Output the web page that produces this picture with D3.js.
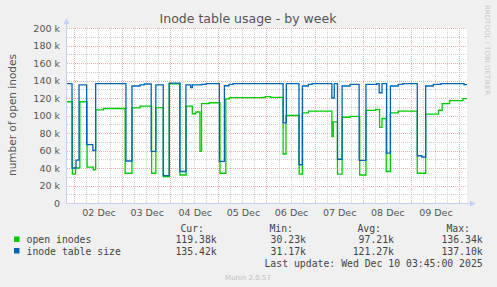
<!DOCTYPE html>
<html>
<head>
<meta charset="utf-8">
<script src="https://cdn.jsdelivr.net/npm/d3@7"></script>
<style>
  body { margin: 0; background: #f0f0f0; }
  svg { display: block; font-family: "DejaVu Sans", sans-serif; }
  .mono { font-family: "DejaVu Sans Mono", monospace; }
</style>
</head>
<body>
<script>
// hours counted from 01 Dec 2025 00:00 UTC, values in thousands
const sizeHours = [20.5, 23.0, 25.0, 26.5, 30.3, 33.4, 34.8, 49.9, 52.9, 56.9, 59, 62.5, 64.8, 68.5, 71.5, 76.8, 79.8, 82.2, 83.0, 87.7, 90, 96.5, 99.0, 101.3, 103.3, 128.3, 129.9, 136.2, 137.9, 140.9, 142.7, 152.6, 153.8, 155.4, 157.7, 161.7, 166.2, 169.6, 175.0, 176.2, 177.6, 179.9, 181.8, 185.7, 188, 195.2, 197.5, 199.4, 203.2, 207, 218.5, 220]
const sizeValues = [136.4, 40, 49, 135, 66.7, 60, 136.4, 48, 133.7, 135, 136, 59, 135, 31.2, 137.1, 36, 135, 132, 135, 135.5, 136.4, 47.5, 134, 135.5, 136.4, 91.6, 136.4, 43.7, 133.7, 135.5, 136.4, 120, 136.4, 50, 133.7, 135.5, 48.7, 135.5, 136.4, 126, 136.4, 57, 133.7, 135.5, 136.4, 54, 52.6, 133.7, 135.5, 136.4, 135.4, 135.4]

const openHours = [20.5, 23.2, 24.8, 26.9, 30.5, 33.6, 34.8, 38.6, 49.5, 52.9, 56.9, 62.7, 64.8, 68.5, 71.5, 76.8, 79.9, 83.0, 84.8, 86.8, 87.6, 91.5, 96.8, 99.7, 101.5, 119.3, 122, 128.3, 129.7, 136.3, 137.9, 140.9, 152.6, 153.3, 155.4, 157.7, 161.7, 166.5, 169.6, 174.5, 176.4, 177.6, 179.7, 181.8, 185.7, 195.2, 199.4, 205.8, 207.6, 211.3, 218, 220]
const openValues = [115.7, 33, 40, 115.7, 41, 38, 106.5, 108, 34, 108.8, 110.7, 34, 109, 30.2, 136.3, 32, 110.8, 102, 104, 59, 113.5, 114.6, 34, 119, 120.5, 121.5, 120.8, 56, 100, 33, 103, 105, 76, 92.7, 33, 98, 99, 32, 105.8, 107, 86.5, 96.6, 36, 103, 105, 34, 101.5, 106, 113.5, 117, 119.4, 119.4]

const seriesNames = ['open inodes', 'inode table size']
const seriesColors = ['#00cc00', '#0066b3']
const statHeads = ['Cur:', 'Min:', 'Avg:', 'Max:']
const statOpen = ['119.38k', '30.23k', '97.21k', '136.34k']
const statSize = ['135.42k', '31.17k', '121.27k', '137.10k']

const w = 497, h = 287
const pLeft = 67, pRight = 467, pTop = 28, pBottom = 203

const base = Date.UTC(2025, 11, 1)
const toDate = hr => new Date(base + hr * 3600000)

let x = d3.scaleUtc()
    .domain([toDate(20.5), toDate(220)])
    .range([pLeft, pRight])

let y = d3.scaleLinear()
    .domain([0, 200000])
    .range([pBottom, pTop])

let svg = d3.select('body')
    .append('svg')
    .attr('width', w)
    .attr('height', h)

// canvas
svg.append('rect')
    .attr('x', pLeft).attr('y', pTop)
    .attr('width', pRight - pLeft).attr('height', pBottom - pTop)
    .attr('fill', '#fff')

//minor grid
let grid = svg.append('g').attr('shape-rendering', 'crispEdges')
grid.selectAll('.hmin')
    .data(d3.range(10000, 200001, 20000))
    .enter().append('line')
    .attr('x1', pLeft).attr('x2', pRight)
    .attr('y1', d => Math.round(y(d)) + 0.5).attr('y2', d => Math.round(y(d)) + 0.5)
    .attr('stroke', '#cfcfcf').attr('stroke-dasharray', '1,1')
grid.selectAll('.vmin')
    .data(x.ticks(d3.utcHour.every(6)).filter(d => d.getUTCHours() != 0))
    .enter().append('line')
    .attr('x1', d => Math.round(x(d)) + 0.5).attr('x2', d => Math.round(x(d)) + 0.5)
    .attr('y1', pTop).attr('y2', pBottom)
    .attr('stroke', '#cfcfcf').attr('stroke-dasharray', '1,1')

//major grid
grid.selectAll('.hmaj')
    .data(d3.range(20000, 200001, 20000))
    .enter().append('line')
    .attr('x1', pLeft).attr('x2', pRight)
    .attr('y1', d => Math.round(y(d)) + 0.5).attr('y2', d => Math.round(y(d)) + 0.5)
    .attr('stroke', '#f0b0b0').attr('stroke-dasharray', '1,1')
grid.selectAll('.vmaj')
    .data(x.ticks(d3.utcDay.every(1)))
    .enter().append('line')
    .attr('x1', d => Math.round(x(d)) + 0.5).attr('x2', d => Math.round(x(d)) + 0.5)
    .attr('y1', pTop).attr('y2', pBottom)
    .attr('stroke', '#f0b0b0').attr('stroke-dasharray', '1,1')

// series
svg.append('clipPath').attr('id', 'plot')
    .append('rect')
    .attr('x', pLeft).attr('y', pTop - 2)
    .attr('width', pRight - pLeft).attr('height', pBottom - pTop + 2)

let line = d3.line()
    .x(d => x(toDate(d[0])))
    .y(d => y(d[1] * 1000))
    .curve(d3.curveStepAfter)

let series = [
    d3.zip(openHours, openValues),
    d3.zip(sizeHours, sizeValues)
]

svg.append('g').attr('clip-path', 'url(#plot)')
    .selectAll('path')
    .data(series)
    .enter()
    .append('path')
    .attr('d', line)
    .attr('fill', 'none')
    .attr('stroke', (d, i) => seriesColors[i])
    .attr('stroke-width', 1.3)

// axes
let axisColor = '#c8d0f6'
svg.append('line')
    .attr('x1', pLeft - 0.5).attr('x2', pLeft - 0.5)
    .attr('y1', pBottom + 1).attr('y2', pTop - 5)
    .attr('stroke', axisColor)
svg.append('line')
    .attr('x1', pLeft - 1).attr('x2', pRight + 4)
    .attr('y1', pBottom + 0.5).attr('y2', pBottom + 0.5)
    .attr('stroke', axisColor)
svg.append('path')
    .attr('d', `M${pLeft - 3.5},${pTop - 4} L${pLeft - 0.5},${pTop - 10} L${pLeft + 2.5},${pTop - 4} Z`)
    .attr('fill', axisColor)
svg.append('path')
    .attr('d', `M${pRight + 3},${pBottom - 2.5} L${pRight + 9},${pBottom + 0.5} L${pRight + 3},${pBottom + 3.5} Z`)
    .attr('fill', axisColor)

// y tick labels
svg.selectAll('.ylab')
    .data(d3.range(0, 200001, 20000))
    .enter().append('text')
    .attr('x', 60)
    .attr('y', d => y(d) + 3.5)
    .attr('text-anchor', 'end')
    .attr('font-size', 9.5)
    .attr('fill', '#555')
    .text(d => d == 0 ? '0' : (d / 1000) + ' k')

// x tick labels at noon
let fmt = d3.utcFormat('%d %b')
svg.selectAll('.xlab')
    .data(x.ticks(d3.utcDay.every(1)).map(d => d3.utcHour.offset(d, 12)).filter(d => x(d) < pRight))
    .enter().append('text')
    .attr('x', d => x(d) + 1)
    .attr('y', 216)
    .attr('text-anchor', 'middle')
    .attr('font-size', 9.5)
    .attr('fill', '#555')
    .text(d => fmt(d))

// title
svg.append('text')
    .attr('x', 248).attr('y', 23)
    .attr('text-anchor', 'middle')
    .attr('font-size', 12.5)
    .attr('fill', '#555')
    .text('Inode table usage - by week')

svg.append('text')
    .attr('transform', 'translate(16,115) rotate(-90)')
    .attr('text-anchor', 'middle')
    .attr('font-size', 10.5)
    .attr('fill', '#555')
    .text('number of open inodes')

svg.append('text')
    .attr('transform', 'translate(485,5) rotate(90)')
    .attr('font-size', 7)
    .attr('fill', '#c8c8c8')
    .text('RRDTOOL / TOBI OETIKER')

// legend
let legend = svg.append('g').attr('class', 'mono').attr('font-size', 9.8).attr('fill', '#444')
let headX = [204, 293, 381, 470]
let valX = [216.7, 306, 394, 482.7]
legend.selectAll('.head')
    .data(statHeads)
    .enter().append('text')
    .attr('x', (d, i) => headX[i]).attr('y', 231.5)
    .attr('text-anchor', 'end')
    .text(d => d)

let rows = [statOpen, statSize]
rows.forEach((row, r) => {
    let yy = 243 + r * 11.5
    legend.append('rect')
        .attr('x', 14).attr('y', yy - 6.5)
        .attr('width', 5.5).attr('height', 5.5)
        .attr('fill', seriesColors[r])
    legend.append('text')
        .attr('x', 26.5).attr('y', yy)
        .text(seriesNames[r])
    legend.selectAll('.v' + r)
        .data(row)
        .enter().append('text')
        .attr('x', (d, i) => valX[i]).attr('y', yy)
        .attr('text-anchor', 'end')
        .text(d => d)
})

legend.append('text')
    .attr('x', 482.7).attr('y', 266.5)
    .attr('text-anchor', 'end')
    .text('Last update: Wed Dec 10 03:45:00 2025')

svg.append('text')
    .attr('x', 248).attr('y', 280)
    .attr('text-anchor', 'middle')
    .attr('font-size', 7)
    .attr('fill', '#c0c0c0')
    .text('Munin 2.0.57')
</script>
</body>
</html>
